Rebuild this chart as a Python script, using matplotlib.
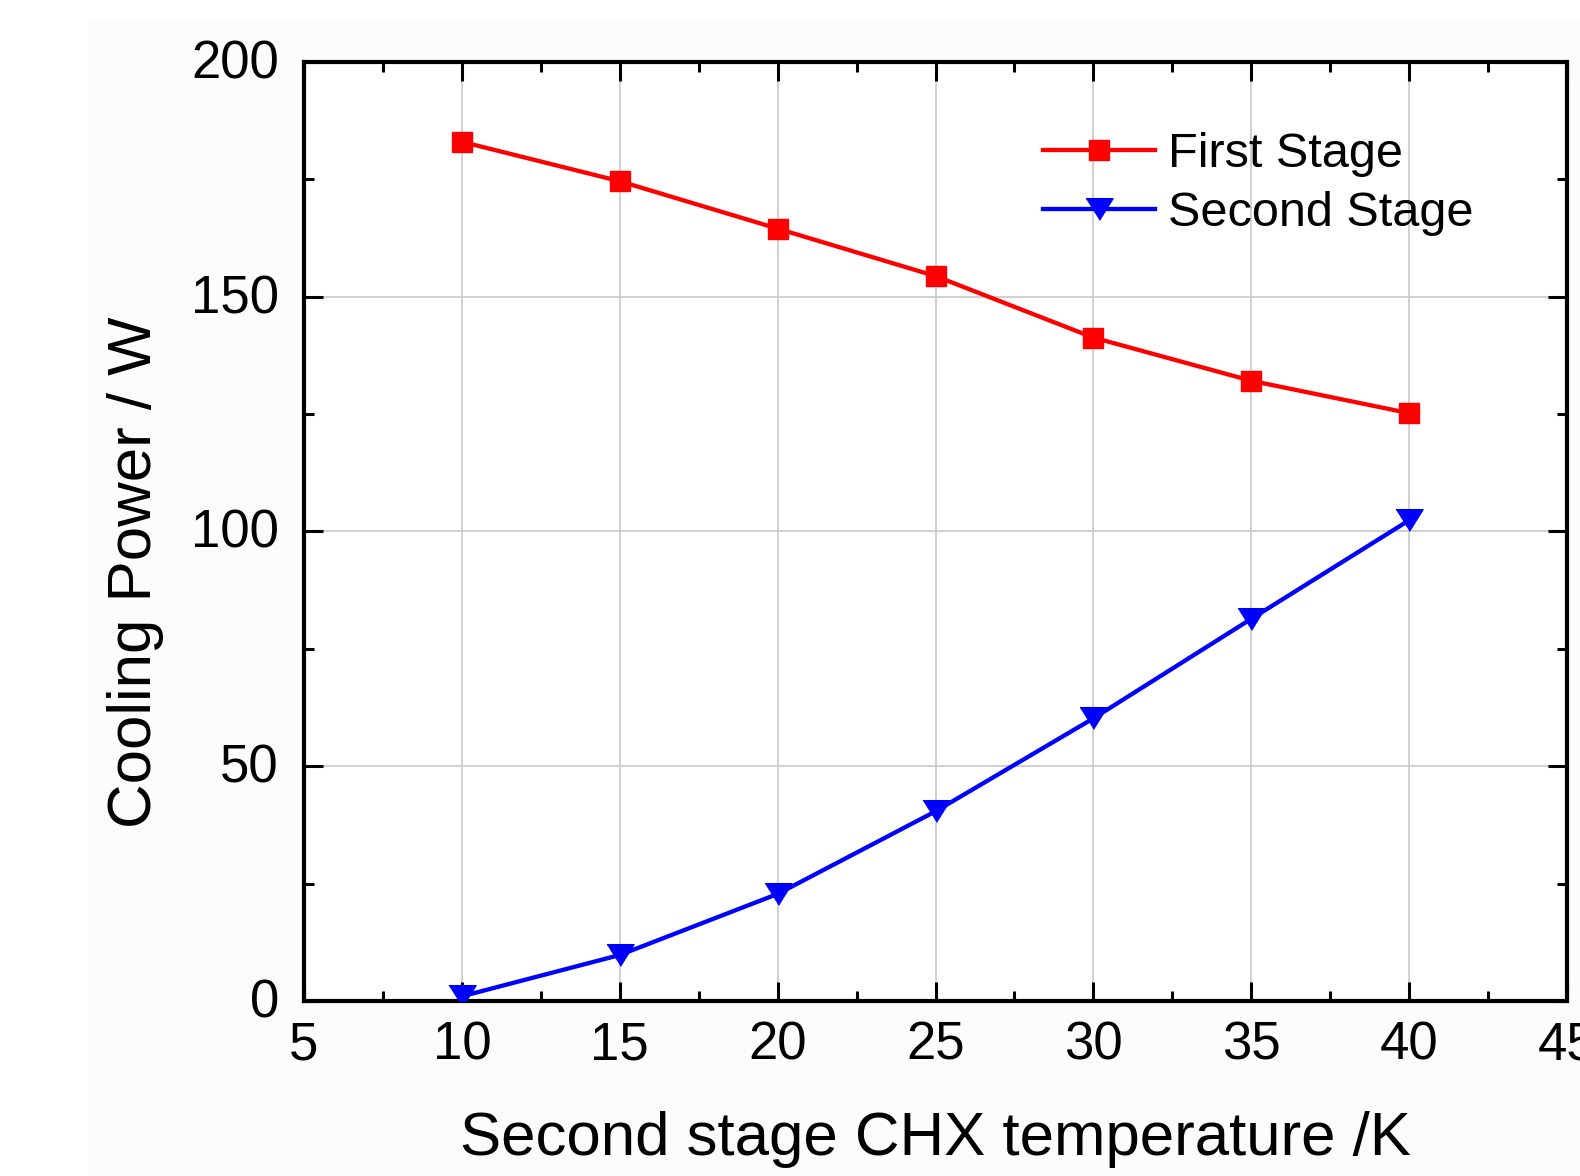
import matplotlib
matplotlib.use("Agg")
import matplotlib.pyplot as plt
import matplotlib.transforms as mtransforms
from matplotlib.patches import Rectangle
from matplotlib.ticker import MultipleLocator

plt.rcParams['font.family'] = ['Liberation Sans', 'DejaVu Sans']

temperature = [10, 15, 20, 25, 30, 35, 40]
first_stage = [183.0, 174.6, 164.5, 154.4, 141.3, 132.1, 125.2]
second_stage = [1.0, 9.8, 22.8, 40.4, 60.2, 81.4, 102.4]

fig = plt.figure(figsize=(15.8, 11.76), dpi=100)
# faint off-white backdrop like the original export
fig.patches.append(Rectangle((88 / 1580, 0), 1 - 88 / 1580, 1 - 20 / 1176,
                             transform=fig.transFigure, color='#fcfcfc', zorder=-10))
ax = fig.add_axes([0.1924, 0.1488, 0.7994, 0.7985])

tri = [(-1, 0.8), (1, 0.8), (0, -0.8)]
ax.plot(temperature, first_stage, color='#ff0000', lw=3.1, marker='s', ms=14.5,
        label='First Stage', zorder=3)
ax.plot(temperature, second_stage, color='#0000ff', lw=3.1, marker=tri, ms=19.5,
        label='Second Stage', zorder=3)

ax.set_xlim(5, 45)
ax.set_ylim(0, 200)
ax.xaxis.set_major_locator(MultipleLocator(5))
ax.xaxis.set_minor_locator(MultipleLocator(2.5))
ax.yaxis.set_major_locator(MultipleLocator(50))
ax.yaxis.set_minor_locator(MultipleLocator(25))

ax.grid(True, which='major', color='#c8c8c8', lw=1.2, zorder=0)
ax.set_axisbelow(True)

for s in ax.spines.values():
    s.set_linewidth(3)
ax.tick_params(which='both', direction='in', top=True, right=True, width=2.2,
               labelsize=38)
ax.tick_params(which='major', length=14)
ax.tick_params(which='minor', length=7)
ax.tick_params(axis='y', pad=18)
ax.tick_params(axis='x', pad=14)

# nudge y tick labels up a few pixels
shift = mtransforms.ScaledTranslation(0, 3 / 100, fig.dpi_scale_trans)
for lbl in ax.get_yticklabels():
    lbl.set_transform(lbl.get_transform() + shift)

ax.set_xlabel('Second stage CHX temperature /K', fontsize=44.5)
ax.set_ylabel('Cooling Power / W', fontsize=44.5)
ax.xaxis.set_label_coords(0.5, -0.117)
ax.yaxis.set_label_coords(-0.111, 0.456)

ax.legend(loc='center left', bbox_to_anchor=(0.585, 0.8697), frameon=False,
          fontsize=35, handlelength=2.3, handletextpad=0.27, labelspacing=0.29,
          borderpad=0, borderaxespad=0)

fig.savefig('out.png', dpi=100)
